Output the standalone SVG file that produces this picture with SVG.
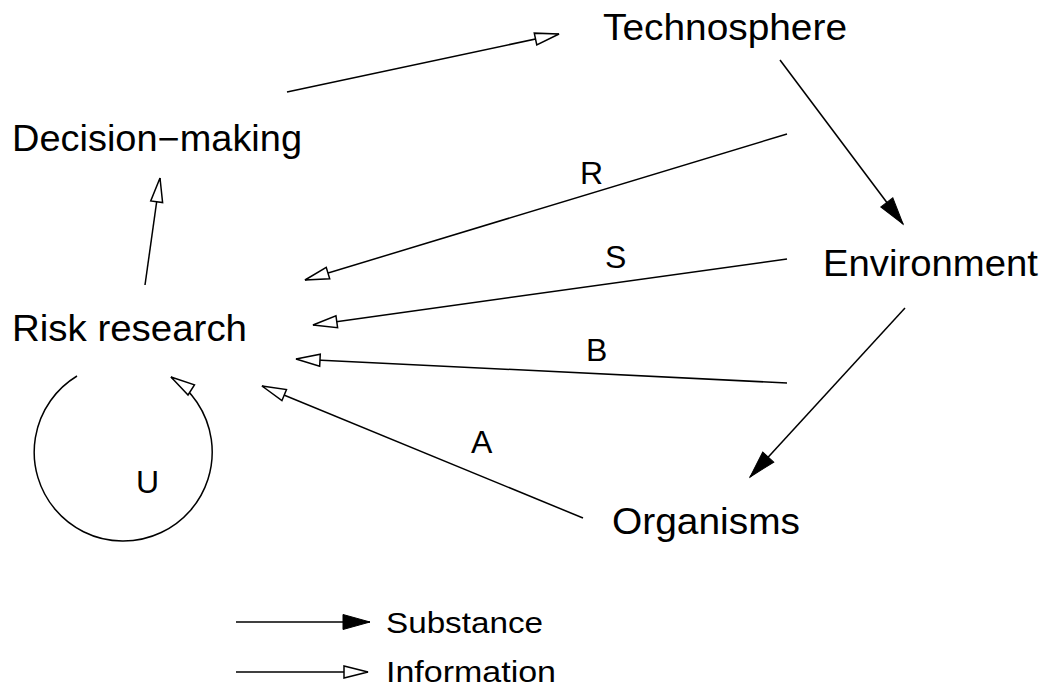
<svg xmlns="http://www.w3.org/2000/svg" width="1050" height="689" viewBox="0 0 1050 689">
  <style>
    .node { font-family: "Liberation Sans", Arial, sans-serif; font-size: 36px; fill: #000; }
    .lbl { font-family: "Liberation Sans", Arial, sans-serif; font-size: 32px; fill: #000; }
    .leg { font-family: "Liberation Sans", Arial, sans-serif; font-size: 29px; fill: #000; }
    .info { fill: none; stroke: #000; stroke-width: 1.5; marker-end: url(#open); }
    .subst { fill: none; stroke: #000; stroke-width: 1.5; marker-end: url(#solid); }
  </style>
  <defs>
    <marker id="open" markerUnits="userSpaceOnUse" viewBox="-28 -9 30 18" refX="0" refY="0" markerWidth="30" markerHeight="18" orient="auto">
      <path d="M0,0 L-24,-6 L-24,6 Z" fill="#fff" stroke="#000" stroke-width="1.5" stroke-linejoin="miter"/>
    </marker>
    <marker id="solid" markerUnits="userSpaceOnUse" viewBox="-30 -10 32 20" refX="0" refY="0" markerWidth="32" markerHeight="20" orient="auto">
      <path d="M0,0 L-27,-7.5 L-27,7.5 Z" fill="#000" stroke="#000" stroke-width="1"/>
    </marker>
  </defs>
  <rect width="1050" height="689" fill="#fff"/>

  <g id="connectors">
    <line class="info" x1="287" y1="92" x2="559" y2="34"/>
    <line class="subst" x1="780" y1="60" x2="903" y2="224"/>
    <line class="subst" x1="905" y1="308" x2="750" y2="477"/>
    <line class="info" x1="787" y1="134" x2="305" y2="280"/>
    <line class="info" x1="787" y1="259" x2="313" y2="325"/>
    <line class="info" x1="787" y1="383" x2="296" y2="359"/>
    <line class="info" x1="583" y1="518" x2="262" y2="386"/>
    <line class="info" x1="145" y1="285" x2="160" y2="178"/>
    <path class="info" d="M 77 376 A 89 89 0 1 0 171 377"/>
  </g>

  <g id="technosphere"><text class="node" x="603" y="40" textLength="244" lengthAdjust="spacingAndGlyphs">Technosphere</text></g>
  <g id="decision-making"><text class="node" x="12" y="151" textLength="290" lengthAdjust="spacingAndGlyphs">Decision−making</text></g>
  <g id="environment"><text class="node" x="823" y="276" textLength="215" lengthAdjust="spacingAndGlyphs">Environment</text></g>
  <g id="risk-research"><text class="node" x="12" y="341" textLength="235" lengthAdjust="spacingAndGlyphs">Risk research</text></g>
  <g id="organisms"><text class="node" x="612" y="534" textLength="188" lengthAdjust="spacingAndGlyphs">Organisms</text></g>

  <g id="labels">
    <text class="lbl" x="580" y="184">R</text>
    <text class="lbl" x="605" y="268">S</text>
    <text class="lbl" x="586" y="361">B</text>
    <text class="lbl" x="471" y="453">A</text>
    <text class="lbl" x="136" y="493">U</text>
  </g>

  <g id="legend">
    <line class="subst" x1="236" y1="622" x2="370" y2="622"/>
    <text class="leg" x="386" y="633" textLength="157" lengthAdjust="spacingAndGlyphs">Substance</text>
    <line class="info" x1="236" y1="672" x2="368" y2="672"/>
    <text class="leg" x="386" y="682" textLength="170" lengthAdjust="spacingAndGlyphs">Information</text>
  </g>
</svg>
